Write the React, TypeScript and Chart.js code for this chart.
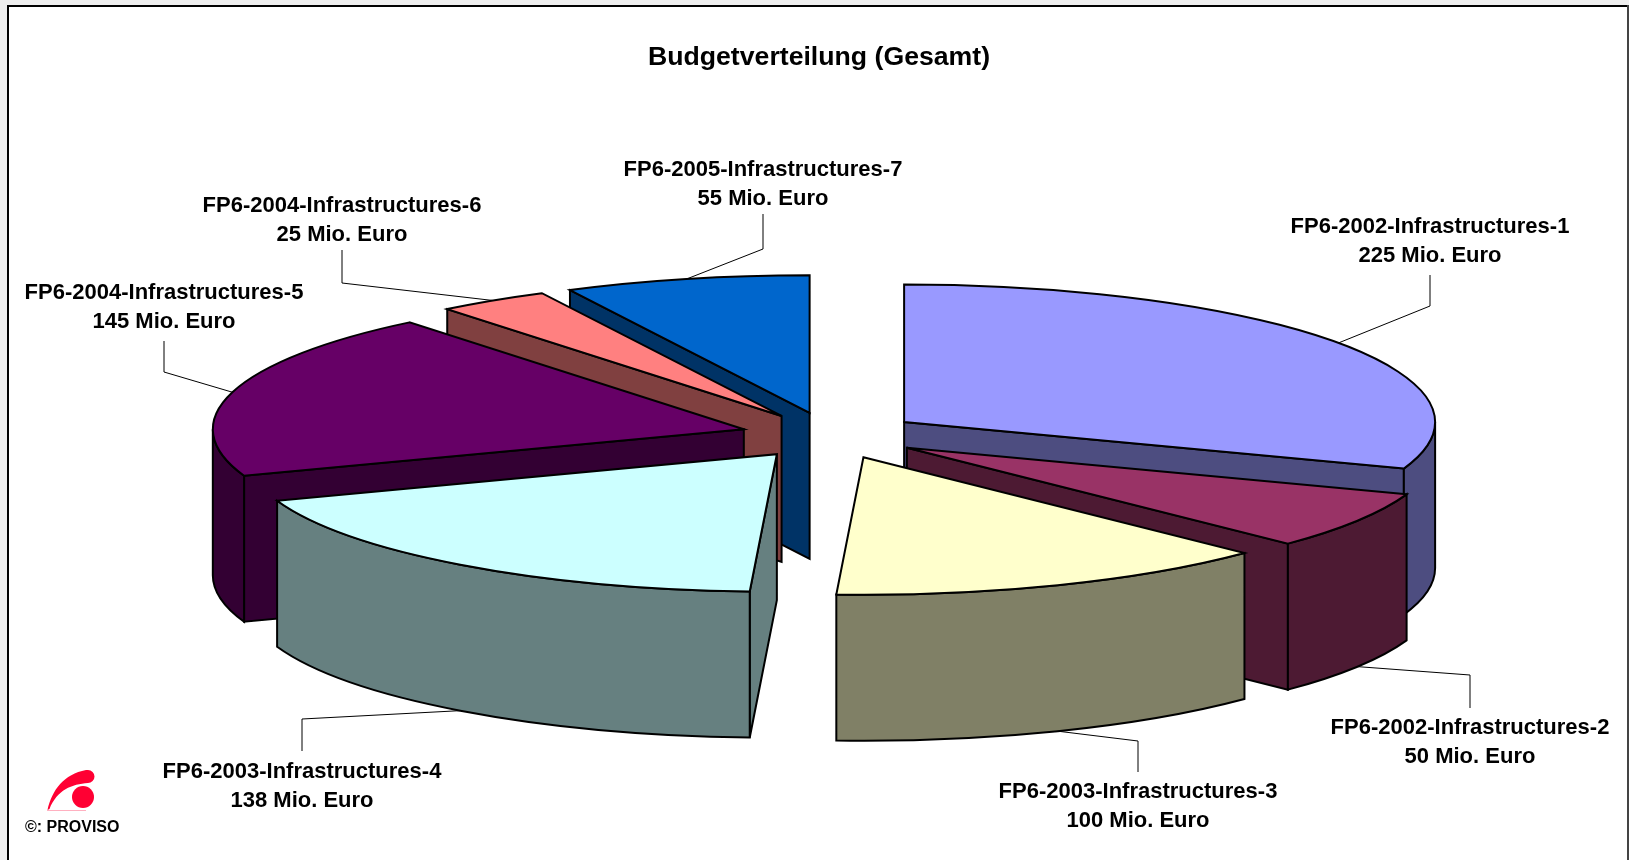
import React, { useEffect, useRef } from "react";
import { Chart, registerables } from "chart.js";

Chart.register(...registerables);

const projects = [
  "FP6-2002-Infrastructures-1",
  "FP6-2002-Infrastructures-2",
  "FP6-2003-Infrastructures-3",
  "FP6-2003-Infrastructures-4",
  "FP6-2004-Infrastructures-5",
  "FP6-2004-Infrastructures-6",
  "FP6-2005-Infrastructures-7",
];
const budgets = [225, 50, 100, 138, 145, 25, 55];
const unit = "Mio. Euro";
const topColors = ["#9999FF", "#993366", "#FFFFCC", "#CCFFFF", "#660066", "#FF8080", "#0066CC"];
const wallColors = ["#4D4D80", "#4D1A33", "#808066", "#668080", "#330033", "#804040", "#003366"];
const paintOrder = [6, 5, 4, 3, 0, 1, 2];

// Leader stub / label placement: [label centre x, line-1 y, stub start y, stub end y]
const labelLayout = [
  [1430, 227, 275, 306],
  [1470, 728, 708, 675],
  [1138, 792, 772, 741],
  [302, 772, 751, 719],
  [164, 293, 341, 372],
  [342, 206, 250, 283],
  [763, 170, 214, 249],
];

const RX = 531;
const TILT = 0.259;
const RY = RX * TILT;
const DEPTH = 146;
const EXPLODE = 90;
const PIE_CX = 830.5;
const PIE_CY = 435.5;
const FONT = '"Liberation Sans", Arial, sans-serif';

const pie3d = {
  id: "pie3d",
  beforeDraw(chart: any) {
    const { ctx, width, height } = chart;
    ctx.save();
    ctx.fillStyle = "#EEEEEE";
    ctx.fillRect(0, 0, width, height);
    ctx.fillStyle = "#FFFFFF";
    ctx.fillRect(7, 5, width - 7, height - 5);
    ctx.fillStyle = "#000000";
    ctx.fillRect(7, 5, width - 7, 2);
    ctx.fillRect(7, 5, 2, height - 5);
    ctx.fillStyle = "#444444";
    ctx.fillRect(width - 2, 5, 2, height - 5);
    ctx.restore();
  },
  beforeDatasetDraw(chart: any) {
    const { ctx } = chart;
    const arcs = chart.getDatasetMeta(0).data;

    const apex = (el: any) => {
      const mid = (el.startAngle + el.endAngle) / 2;
      return {
        x: PIE_CX + Math.cos(mid) * EXPLODE,
        y: PIE_CY + Math.sin(mid) * EXPLODE * TILT,
      };
    };

    const cutFace = (ax: number, ay: number, a: number, color: string) => {
      const rx = ax + Math.cos(a) * RX;
      const ry = ay + Math.sin(a) * RY;
      ctx.beginPath();
      ctx.moveTo(ax, ay);
      ctx.lineTo(rx, ry);
      ctx.lineTo(rx, ry + DEPTH);
      ctx.lineTo(ax, ay + DEPTH);
      ctx.closePath();
      ctx.fillStyle = color;
      ctx.fill();
      ctx.stroke();
    };

    ctx.save();
    ctx.strokeStyle = "#000000";
    ctx.lineWidth = 2;
    ctx.lineJoin = "miter";

    for (const i of paintOrder) {
      const el = arcs[i];
      const { x: ax, y: ay } = apex(el);
      const a0 = el.startAngle;
      const a1 = el.endAngle;

      // a cut face is visible when it turns towards the viewer
      if (Math.cos(a0) < 0) cutFace(ax, ay, a0, wallColors[i]);
      if (Math.cos(a1) > 0) cutFace(ax, ay, a1, wallColors[i]);

      const s = Math.max(a0, 0);
      const e = Math.min(a1, Math.PI);
      if (e > s) {
        ctx.beginPath();
        ctx.ellipse(ax, ay, RX, RY, 0, s, e);
        ctx.lineTo(ax + Math.cos(e) * RX, ay + Math.sin(e) * RY + DEPTH);
        ctx.ellipse(ax, ay + DEPTH, RX, RY, 0, e, s, true);
        ctx.closePath();
        ctx.fillStyle = wallColors[i];
        ctx.fill();
        ctx.stroke();
      }

      ctx.save();
      ctx.translate(ax, ay);
      ctx.scale(1, TILT);
      ctx.translate(-el.x, -el.y);
      el.draw(ctx);
      ctx.restore();

      ctx.beginPath();
      ctx.moveTo(ax, ay);
      ctx.ellipse(ax, ay, RX, RY, 0, a0, a1);
      ctx.closePath();
      ctx.stroke();
    }

    // Leader lines and data labels
    ctx.lineWidth = 1;
    ctx.textAlign = "center";
    ctx.textBaseline = "middle";
    ctx.fillStyle = "#000000";
    ctx.font = `bold 22px ${FONT}`;
    arcs.forEach((el: any, i: number) => {
      const { x: ax, y: ay } = apex(el);
      const mid = (el.startAngle + el.endAngle) / 2;
      const front = Math.sin(mid) > 0;
      const [lx, ly, y0, y1] = labelLayout[i];
      ctx.beginPath();
      ctx.moveTo(lx, y0);
      ctx.lineTo(lx, y1);
      ctx.lineTo(ax + Math.cos(mid) * RX, ay + Math.sin(mid) * RY + (front ? DEPTH : 0));
      ctx.stroke();
      ctx.fillText(projects[i], lx, ly);
      ctx.fillText(`${budgets[i]} ${unit}`, lx, ly + 28.5);
    });

    // Logo
    ctx.fillStyle = "#FF0033";
    ctx.beginPath();
    ctx.arc(83, 797, 11, 0, Math.PI * 2);
    ctx.fill();
    ctx.beginPath();
    ctx.moveTo(47.5, 810);
    ctx.bezierCurveTo(52, 790, 64, 774, 86, 770);
    ctx.arc(88, 776.5, 6.5, -Math.PI / 2, Math.PI / 2);
    ctx.bezierCurveTo(72, 784, 57, 790, 49.5, 809);
    ctx.closePath();
    ctx.fill();
    ctx.fillStyle = "#FFB0C0";
    ctx.fillRect(47, 810, 39, 1);
    ctx.fillStyle = "#000000";
    ctx.textAlign = "left";
    ctx.font = `bold 16px ${FONT}`;
    ctx.fillText("©: PROVISO", 25, 828);
    ctx.restore();
    return false;
  },
};

export default function App() {
  const ref = useRef<HTMLCanvasElement>(null);
  useEffect(() => {
    document.body.style.margin = "0";
    const chart = new Chart(ref.current as HTMLCanvasElement, {
      type: "pie",
      data: {
        labels: projects,
        datasets: [
          {
            data: budgets,
            backgroundColor: topColors,
            borderWidth: 0,
          },
        ],
      },
      options: {
        responsive: false,
        animation: false,
        radius: RX,
        layout: { padding: { left: 9 } },
        plugins: {
          legend: { display: false },
          tooltip: { enabled: false },
          title: {
            display: true,
            text: "Budgetverteilung (Gesamt)",
            color: "#000000",
            font: { family: FONT, size: 26.67, weight: "bold" },
            padding: { top: 42, bottom: 42 },
          },
        },
      },
      plugins: [pie3d],
    } as any);
    return () => chart.destroy();
  }, []);
  return <canvas ref={ref} width={1629} height={860} style={{ display: "block" }} />;
}
